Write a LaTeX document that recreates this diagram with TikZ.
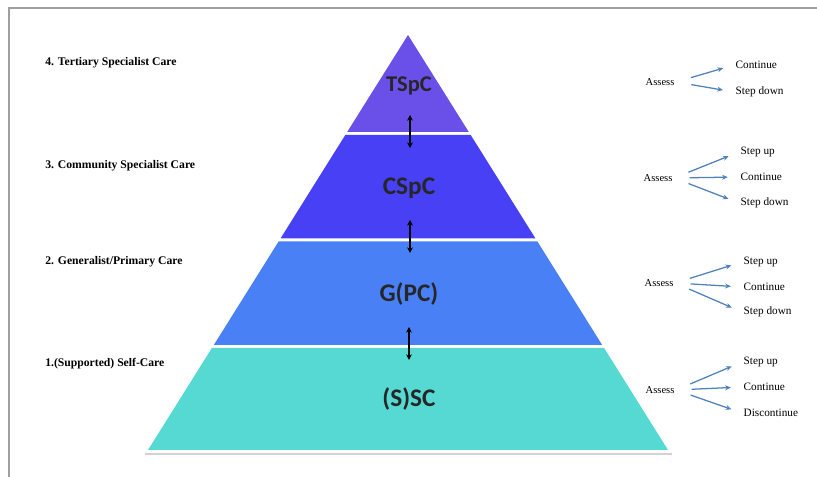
\documentclass[tikz,border=0pt]{standalone}
\usepackage{fontspec}
\setmainfont{Liberation Serif}
\newfontfamily\bandfont{Carlito}
\usetikzlibrary{positioning, calc, arrows.meta}

\definecolor{tspccol}{RGB}{106,80,232}
\definecolor{cspccol}{RGB}{72,64,245}
\definecolor{gpccol}{RGB}{74,128,245}
\definecolor{ssccol}{RGB}{86,217,210}
\definecolor{arrowblue}{RGB}{79,129,189}

\tikzset{
    levellabel/.style={font=\bfseries\fontsize{8.3}{10}\selectfont, anchor=west, inner sep=0pt},
    bandlabel/.style={font=\bandfont\bfseries\fontsize{18}{20}\selectfont, text=black!85},
    assessnode/.style={font=\fontsize{7.5}{9}\selectfont, anchor=west, inner sep=1pt},
    outcome/.style={font=\fontsize{8}{10}\selectfont, anchor=west, inner sep=1pt},
    moveto/.style={draw=arrowblue, line width=0.9pt, -{Stealth[length=4pt, width=3.5pt]},
        shorten <=11pt, shorten >=8pt},
    updown/.style={black, line width=1.4pt, {Stealth[length=4pt, width=4pt]}-{Stealth[length=4pt, width=4pt]}}
}

\begin{document}
\begin{tikzpicture}[x=0.025cm, y=-0.025cm]
    \useasboundingbox (0,0) rectangle (817,477);

    % Draw frame
    \draw[gray!75, line width=0.9pt] (9,477) -- (9,8) -- (817,8);

    % Draw pyramid bands
    \fill[tspccol] (408,35) -- (468.8,132) -- (347.2,132) -- cycle;
    \fill[cspccol] (345.3,135) -- (470.7,135) -- (535.5,238.5) -- (280.5,238.5) -- cycle;
    \fill[gpccol] (278.6,241.5) -- (537.4,241.5) -- (602.2,345) -- (213.8,345) -- cycle;
    \fill[ssccol] (211.9,348) -- (604.1,348) -- (668,450) -- (148,450) -- cycle;

    % Draw baseline
    \draw[gray!35, line width=1.2pt] (145,454) -- (672,454);

    % Band labels
    \node[bandlabel, font=\bandfont\bfseries\fontsize{16}{18}\selectfont] (tspc) at (409,86) {TSpC};
    \node[bandlabel] (cspc) at (409,188) {CSpC};
    \node[bandlabel] (gpc) at (409,294) {G(PC)};
    \node[bandlabel] (ssc) at (409,399) {(S)SC};

    % Step arrows between bands
    \coordinate (s1top) at (410,115);
    \coordinate (s1bot) at (410,148);
    \coordinate (s2top) at (410,220);
    \coordinate (s2bot) at (410,253);
    \coordinate (s3top) at (409,327);
    \coordinate (s3bot) at (409,360);
    \draw[updown] (s1top) -- (s1bot);
    \draw[updown] (s2top) -- (s2bot);
    \draw[updown] (s3top) -- (s3bot);

    % Level names
    \node[levellabel] (lvl4) at (45,63) {4. Tertiary Specialist Care};
    \node[levellabel] (lvl3) at (45,166) {3. Community Specialist Care};
    \node[levellabel] (lvl2) at (45,262) {2. Generalist/Primary Care};
    \node[levellabel] (lvl1) at (45,364) {1.(Supported) Self-Care};

    % Assess 4
    \node[assessnode] (as4) at (644,82) {Assess};
    \node[outcome] (co4) at (734,65) {Continue};
    \node[outcome] (sd4) at (734,92) {Step down};
    \draw[moveto] (as4.east) -- (co4.west);
    \draw[moveto] (as4.east) -- (sd4.west);

    % Assess 3
    \node[assessnode] (as3) at (642,178) {Assess};
    \node[outcome] (su3) at (739,152) {Step up};
    \node[outcome] (co3) at (739,177) {Continue};
    \node[outcome] (sd3) at (739,203) {Step down};
    \draw[moveto] (as3.east) -- (su3.west);
    \draw[moveto] (as3.east) -- (co3.west);
    \draw[moveto] (as3.east) -- (sd3.west);

    % Assess 2
    \node[assessnode] (as2) at (643,283) {Assess};
    \node[outcome] (su2) at (742,262) {Step up};
    \node[outcome] (co2) at (742,287) {Continue};
    \node[outcome] (sd2) at (742,312) {Step down};
    \draw[moveto] (as2.east) -- (su2.west);
    \draw[moveto] (as2.east) -- (co2.west);
    \draw[moveto] (as2.east) -- (sd2.west);

    % Assess 1
    \node[assessnode] (as1) at (644,390) {Assess};
    \node[outcome] (su1) at (742,362) {Step up};
    \node[outcome] (co1) at (742,387) {Continue};
    \node[outcome] (dc1) at (742,413) {Discontinue};
    \draw[moveto] (as1.east) -- (su1.west);
    \draw[moveto] (as1.east) -- (co1.west);
    \draw[moveto] (as1.east) -- (dc1.west);
\end{tikzpicture}
\end{document}
